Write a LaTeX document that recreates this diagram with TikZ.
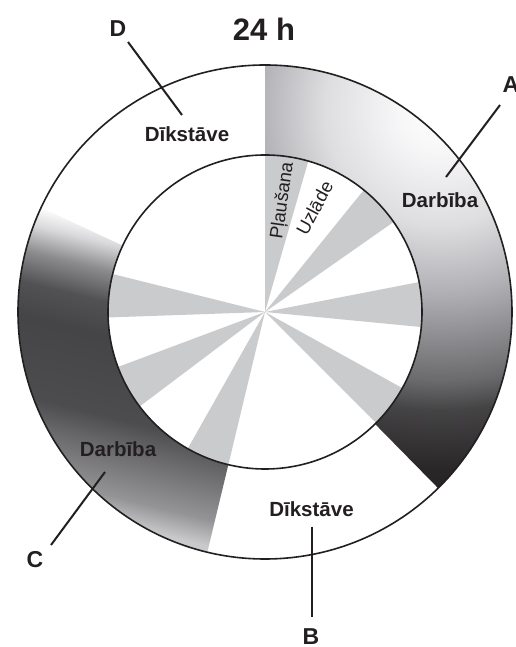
\documentclass[tikz,border=0pt]{standalone}
\usepackage{fontspec}
\setmainfont{Liberation Sans}
\usetikzlibrary{calc}
\definecolor{ink}{RGB}{35,31,32}
\definecolor{wedgegray}{RGB}{202,203,205}
\pgfdeclareradialshading{ashade}{\pgfpointorigin}{%
 rgb(0bp)=(1,1,1); rgb(40bp)=(0.97,0.97,0.975); rgb(115bp)=(0.87,0.87,0.88);
 rgb(180bp)=(0.70,0.70,0.715); rgb(200bp)=(0.64,0.64,0.655); rgb(270bp)=(0.42,0.42,0.43);
 rgb(300bp)=(0.27,0.265,0.27); rgb(360bp)=(0.16,0.15,0.155); rgb(420bp)=(0.13,0.12,0.125)}
\pgfdeclareverticalshading{cshade}{600bp}{%
 rgb(0bp)=(1,1,1); rgb(40bp)=(1,1,1); rgb(60bp)=(0.85,0.85,0.86); rgb(86bp)=(0.55,0.55,0.56);
 rgb(117bp)=(0.32,0.32,0.33); rgb(150bp)=(0.27,0.27,0.28); rgb(228bp)=(0.30,0.30,0.31);
 rgb(253bp)=(0.40,0.40,0.41); rgb(304bp)=(0.58,0.58,0.59); rgb(330bp)=(0.79,0.79,0.80);
 rgb(450bp)=(0.85,0.85,0.86)}
\begin{document}
\begin{tikzpicture}[x=1bp,y=1bp,
  lbl/.style={font=\bfseries\fontsize{20.5bp}{24bp}\selectfont, text=ink, inner sep=0pt},
  letter/.style={font=\bfseries\fontsize{23bp}{26bp}\selectfont, text=ink, inner sep=0pt},
  inlbl/.style={font=\fontsize{18.5bp}{22bp}\selectfont, text=ink, inner sep=0pt},
  leader/.style={draw=ink, line width=2bp},
  ringline/.style={draw=ink, line width=1.6bp},
  shadenode/.style={inner sep=0pt, outer sep=0pt}]
\useasboundingbox (0,0) rectangle (516,647);
\fill[white] (0,0) rectangle (516,647);
\coordinate (O) at (265,335);
% sector A (Darbiba, right)
\begin{scope}
  \clip ($(O)+(90:247)$) arc[start angle=90,end angle=-45.5,radius=247]
        -- ($(O)+(-45.5:157)$) arc[start angle=-45.5,end angle=90,radius=157] -- cycle;
  \node[shadenode] (ashading) at (440,537) {\pgfuseshading{ashade}};
\end{scope}
% sector C (Darbiba, left)
\begin{scope}
  \clip ($(O)+(155:247)$) arc[start angle=155,end angle=256.5,radius=247]
        -- ($(O)+(256.5:157)$) arc[start angle=256.5,end angle=155,radius=157] -- cycle;
  \node[shadenode, rotate=166.1, anchor=south] (cshading) at (141.9,456.9) {\pgfuseshading{cshade}};
\end{scope}
% inner wedges
\foreach \a/\b in {74/90, 35/51, -5.5/11, -45/-29, 240.5/256.5, 200.5/217, 166/182}
  \fill[wedgegray] (O) -- ($(O)+(\a:157)$) arc[start angle=\a,end angle=\b,radius=157] -- cycle;
% circles
\draw[ringline] (O) circle[radius=247];
\draw[ringline] (O) circle[radius=157];
% texts
\node[font=\bfseries\fontsize{31bp}{34bp}\selectfont, text=ink, inner sep=0pt, anchor=base] (title) at (264,606) {24 h};
\node[letter,anchor=base] (labD) at (118,610) {D};
\node[letter,anchor=base] (labA) at (511,554) {A};
\node[letter,anchor=base] (labB) at (311,2) {B};
\node[letter,anchor=base] (labC) at (35,79) {C};
\node[lbl,anchor=base] (dik1) at (187,505) {Dīkstāve};
\node[lbl,anchor=base] (dik2) at (311.5,130) {Dīkstāve};
\node[lbl,anchor=base] (darb1) at (440,439) {Darbība};
\node[lbl,anchor=base] (darb2) at (118,190) {Darbība};
\node[inlbl,anchor=mid,rotate=82] (plau) at (285,446) {Pļaušana};
\node[inlbl,anchor=mid,rotate=62] (uzl) at (318,437) {Uzlāde};
% leader lines
\coordinate (d1) at (128,605); \coordinate (d2) at (182,532);
\coordinate (a1) at (500,542); \coordinate (a2) at (446,470);
\coordinate (b1) at (312,120); \coordinate (b2) at (312,30);
\coordinate (c1) at (105,175); \coordinate (c2) at (51,102);
\draw[leader] (d1) -- (d2);
\draw[leader] (a1) -- (a2);
\draw[leader] (b1) -- (b2);
\draw[leader] (c1) -- (c2);
\end{tikzpicture}
\end{document}
